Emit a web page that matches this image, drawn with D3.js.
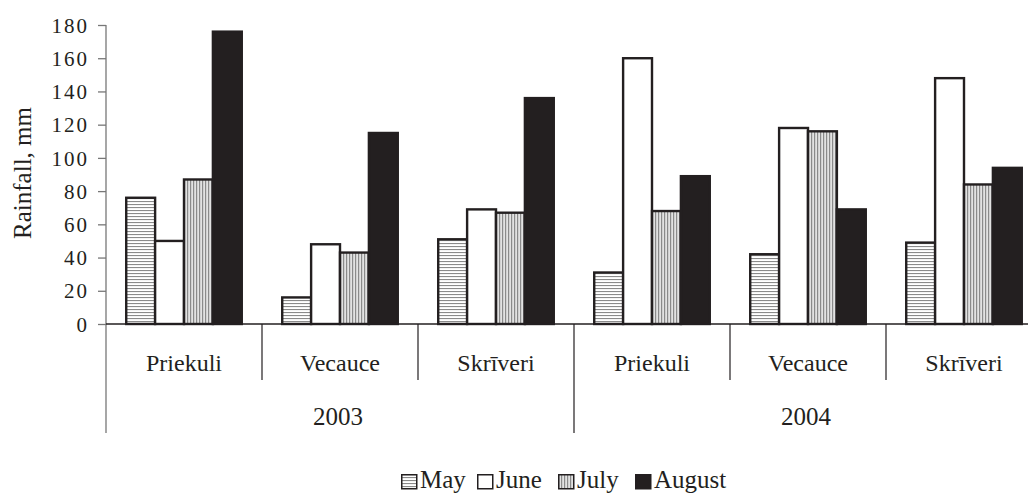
<!DOCTYPE html>
<html>
<head>
<meta charset="utf-8">
<script src="https://cdn.jsdelivr.net/npm/d3@7"></script>
<style>
  body { margin: 0; background: #fff; }
  text { font-family: "Liberation Serif", "Times New Roman", serif; fill: #231f20; }
</style>
</head>
<body>
<div id="chart"></div>
<script>
// data
const years = ['2003', '2004'];
const sites = ['Priekuli', 'Vecauce', 'Skrīveri'];
const months = ['May', 'June', 'July', 'August'];
const may    = [76, 16, 51, 31, 42, 49];
const june   = [50, 48, 69, 160, 118, 148];
const july   = [87, 43, 67, 68, 116, 84];
const august = [176, 115, 136, 89, 69, 94];
const yTicks = [0, 20, 40, 60, 80, 100, 120, 140, 160, 180];

const W = 1028, H = 493;
const ink = '#231f20';

const svg = d3.select('#chart').append('svg')
    .attr('width', W)
    .attr('height', H);

// fill patterns
const defs = svg.append('defs');
const pMay = defs.append('pattern').attr('id', 'pMay')
    .attr('patternUnits', 'userSpaceOnUse').attr('width', 6).attr('height', 3);
pMay.append('rect').attr('width', 6).attr('height', 3).attr('fill', '#fff');
pMay.append('rect').attr('y', 0).attr('width', 6).attr('height', 1.1).attr('fill', '#8a8a8a');

const pJuly = defs.append('pattern').attr('id', 'pJuly')
    .attr('patternUnits', 'userSpaceOnUse').attr('width', 3).attr('height', 6);
pJuly.append('rect').attr('width', 3).attr('height', 6).attr('fill', '#e2e2e2');
pJuly.append('rect').attr('x', 0).attr('width', 1.2).attr('height', 6).attr('fill', '#8a8a8a');

const fills = ['url(#pMay)', '#fff', 'url(#pJuly)', ink];
const series = [may, june, july, august];

// groups: year x site
const groups = [];
years.forEach(yr => sites.forEach(s => groups.push(yr + '|' + s)));

const x0 = d3.scaleBand().domain(groups).range([106, 1042]).padding(0);
const x1 = d3.scaleBand().domain(months).range([0, x0.bandwidth()])
    .paddingInner(0).paddingOuter(0.7);
const y = d3.scaleLinear().domain([0, 180]).range([324, 25]);

// y axis
const yAxis = svg.append('g')
    .attr('transform', 'translate(106,0)')
    .call(d3.axisLeft(y).tickValues(yTicks).tickSize(8).tickSizeOuter(0));
yAxis.select('.domain').remove();
yAxis.selectAll('.tick line').attr('stroke', '#777').attr('stroke-width', 1.3);
yAxis.selectAll('.tick text')
    .attr('x', -17)
    .attr('dy', '0.34em')
    .style('font-family', '"Liberation Serif", serif')
    .style('font-size', '21px')
    .style('letter-spacing', '2px')
    .attr('fill', ink);
svg.append('line')
    .attr('x1', 106).attr('x2', 106)
    .attr('y1', y(180)).attr('y2', 433)
    .attr('stroke', '#777').attr('stroke-width', 1.3);

// bars
groups.forEach((g, gi) => {
    const gEl = svg.append('g').attr('transform', `translate(${x0(g)},0)`);
    months.forEach((m, mi) => {
        const v = series[mi][gi];
        gEl.append('rect')
            .attr('x', x1(m))
            .attr('y', y(v))
            .attr('width', x1.bandwidth())
            .attr('height', y(0) - y(v))
            .attr('fill', fills[mi])
            .attr('stroke', ink)
            .attr('stroke-width', 2.4);
    });
});

// x axis line
svg.append('line')
    .attr('x1', 106).attr('x2', W)
    .attr('y1', y(0)).attr('y2', y(0))
    .attr('stroke', ink).attr('stroke-width', 1.3);

// site separators and labels
groups.forEach((g, gi) => {
    const xs = x0(g);
    if (gi % 3 !== 0) {
        svg.append('line')
            .attr('x1', xs).attr('x2', xs)
            .attr('y1', y(0)).attr('y2', 380)
            .attr('stroke', ink).attr('stroke-width', 1.2);
    }
    svg.append('text')
        .attr('x', xs + x0.bandwidth() / 2)
        .attr('y', 371)
        .attr('text-anchor', 'middle')
        .style('font-size', '24px')
        .text(g.split('|')[1]);
});

// year separators and labels
years.forEach((yr, i) => {
    const xs = x0(yr + '|' + sites[0]);
    const xe = x0(yr + '|' + sites[2]) + x0.bandwidth();
    if (i > 0) {
        svg.append('line')
            .attr('x1', xs).attr('x2', xs)
            .attr('y1', y(0)).attr('y2', 433)
            .attr('stroke', ink).attr('stroke-width', 1.2);
    }
    svg.append('text')
        .attr('x', (xs + xe) / 2 - 2)
        .attr('y', 425)
        .attr('text-anchor', 'middle')
        .style('font-size', '25px')
        .text(yr);
});

// y label
svg.append('text')
    .attr('transform', 'translate(31,173) rotate(-90)')
    .attr('text-anchor', 'middle')
    .style('font-size', '25px')
    .text('Rainfall, mm');

// legend
const legX = [401, 477, 558, 635];
months.forEach((m, i) => {
    const lg = svg.append('g').attr('transform', `translate(${legX[i]},474)`);
    lg.append('rect')
        .attr('x', 0.75).attr('y', 0.75)
        .attr('width', 15).attr('height', 14)
        .attr('fill', fills[i])
        .attr('stroke', ink).attr('stroke-width', 1.5);
    lg.append('text')
        .attr('x', 19).attr('y', 14)
        .style('font-size', '25px')
        .text(m);
});
</script>
</body>
</html>
